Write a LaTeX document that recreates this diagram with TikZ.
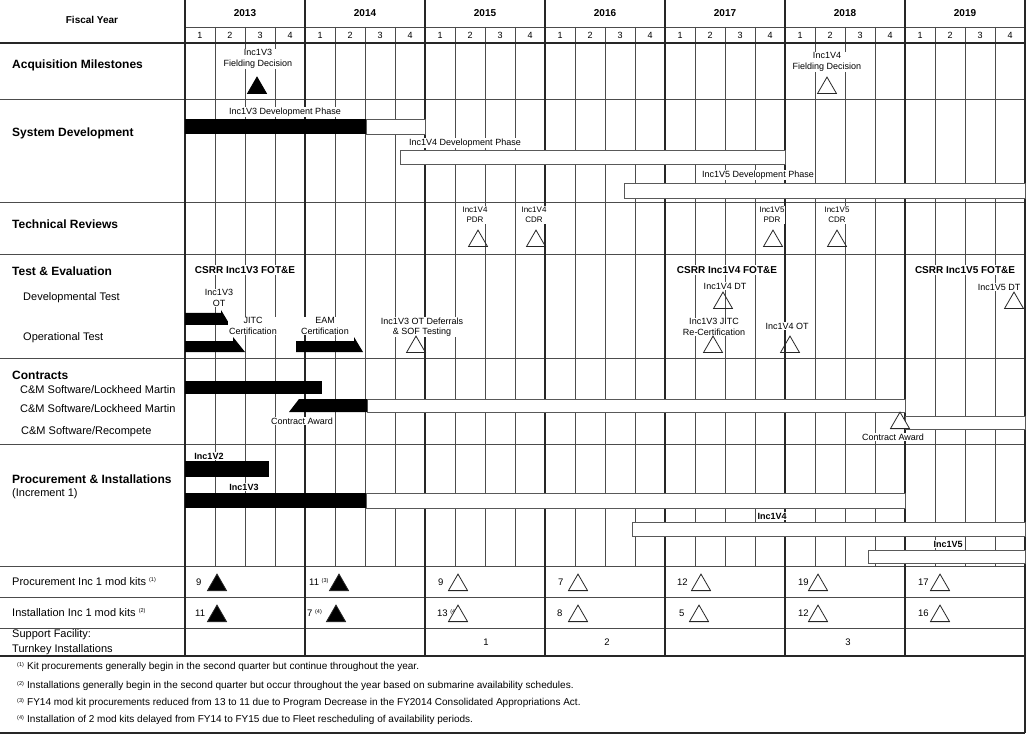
\documentclass[tikz,border=0pt]{standalone}
\usepackage{fontspec}
\setmainfont{Liberation Sans}
\usetikzlibrary{positioning}
\usetikzlibrary{shapes.geometric}
\newcommand\fnmark[1]{\textsuperscript{\fontsize{5.5}{6}\selectfont(#1)}}

\begin{document}
\begin{tikzpicture}[
		x=1pt,
		y=-1pt,
		thin grid/.style={draw=black!70, line width=0.7pt},
		thick grid/.style={draw=black!85, line width=1.6pt},
		head node/.style={anchor=west, inner sep=0pt, font=\bfseries\fontsize{12}{14}\selectfont},
		sub node/.style={anchor=west, inner sep=0pt, font=\fontsize{11}{13}\selectfont},
		main node/.style={inner sep=1pt, fill=white, align=center, font=\fontsize{9}{10.5}\selectfont},
		review node/.style={main node, font=\fontsize{8}{10}\selectfont},
		bold node/.style={inner sep=1pt, fill=white, font=\bfseries\fontsize{9}{10}\selectfont},
		csrr node/.style={bold node, font=\bfseries\fontsize{10}{12}\selectfont},
		count node/.style={anchor=west, inner sep=0pt, font=\fontsize{9.5}{10}\selectfont},
		note node/.style={anchor=west, inner sep=0pt, font=\fontsize{10}{11}\selectfont},
		ms open/.style={regular polygon, regular polygon sides=3, minimum size=22pt, inner sep=0pt, anchor=south, draw=black!85, line width=0.8pt},
		ms done/.style={ms open, draw=black, fill=black},
		done bar/.style={fill=black},
		open bar/.style={draw=black!65, fill=white, line width=0.8pt}
		]
		
		\useasboundingbox (0,0) rectangle (1028,735);
		
		\foreach \q in {0,...,27}
			\draw[thin grid] ({185+30*\q},27) -- ({185+30*\q},566);
		\foreach \r in {99,202,254,358,444,566,597,628}
			\draw[thin grid] (0,\r) -- (1025,\r);
		\draw[thin grid] (185,27) -- (1025,27);
		\draw[thick grid] (0,43) -- (1025,43);
		\draw[thick grid] (0,656) -- (1025,656);
		\draw[thick grid] (0,733) -- (1025,733);
		\foreach \i in {0,...,7}
			\draw[thick grid] ({185+120*\i},0) -- ({185+120*\i},656);
		\draw[thick grid] (1025,0) -- (1025,733);
		
		\node[csrr node] (fy) at (92,20) {Fiscal Year};
		\foreach \yr [count=\i from 0] in {2013,...,2019}
			\node[csrr node] (y\yr) at ({245+120*\i},13) {\yr};
		\foreach \i in {0,...,6}
			\foreach \q in {1,...,4}
				\node[inner sep=0pt, font=\fontsize{9}{10}\selectfont] (q\i\q) at ({170+120*\i+30*\q},35) {\q};
		
		\node[head node] (acq) at (12,65) {Acquisition Milestones};
		\node[head node] (sys) at (12,133) {System Development};
		\node[head node] (tech) at (12,224) {Technical Reviews};
		\node[head node] (te) at (12,271) {Test \& Evaluation};
		\node[sub node] (dt) at (23,298) {Developmental Test};
		\node[sub node] (ot) at (23,338) {Operational Test};
		\node[head node] (con) at (12,375) {Contracts};
		\node[sub node] (lm1) at (20,390) {C\&M Software/Lockheed Martin};
		\node[sub node] (lm2) at (20,409) {C\&M Software/Lockheed Martin};
		\node[sub node] (rec) at (21,432) {C\&M Software/Recompete};
		\node[head node] (pi) at (12,479) {Procurement \& Installations};
		\node[sub node] (inc) at (12,494) {(Increment 1)};
		\node[sub node] (prk) at (12,582) {Procurement Inc 1 mod kits \fnmark{1}};
		\node[sub node] (ink) at (12,613) {Installation Inc 1 mod kits \fnmark{2}};
		\node[sub node, align=left, font=\fontsize{11}{15}\selectfont] (sup) at (12,642) {Support Facility:\\Turnkey Installations};
		
		\draw[open bar] (366,119) rectangle (425,134);
		\fill[done bar] (185,119) rectangle (366,134);
		\draw[open bar] (400,150) rectangle (785,164);
		\draw[open bar] (624,183) rectangle (1025,198);
		\fill[done bar] (185,313) -- (221,313) -- (221,310) -- (230,325) -- (185,325) -- cycle;
		\fill[done bar] (185,341) -- (233,341) -- (233,337) -- (245,352) -- (185,352) -- cycle;
		\fill[done bar] (296,341) -- (354,341) -- (354,337) -- (363,352) -- (296,352) -- cycle;
		\fill[done bar] (185,381) rectangle (322,394);
		\draw[open bar] (367,399) rectangle (905,412);
		\fill[done bar] (289,412) -- (299,399) -- (367,399) -- (367,412) -- cycle;
		\draw[open bar] (905,416) rectangle (1025,429);
		\fill[done bar] (185,461) rectangle (269,477);
		\draw[open bar] (366,493) rectangle (905,508);
		\fill[done bar] (185,493) rectangle (366,508);
		\draw[open bar] (632,522) rectangle (1025,536);
		\draw[open bar] (868,550) rectangle (1025,563);
		
		\node[main node] (fd3) at (258,59) {Inc1V3\\Fielding Decision};
		\node[main node] (fd4) at (827,62) {Inc1V4\\Fielding Decision};
		\node[main node] (dp3) at (285,112) {Inc1V3 Development Phase};
		\node[main node] (dp4) at (465,143) {Inc1V4 Development Phase};
		\node[main node] (dp5) at (758,175) {Inc1V5 Development Phase};
		\node[review node] (pdr4) at (475,215) {Inc1V4\\PDR};
		\node[review node] (cdr4) at (534,215) {Inc1V4\\CDR};
		\node[review node] (pdr5) at (772,215) {Inc1V5\\PDR};
		\node[review node] (cdr5) at (837,215) {Inc1V5\\CDR};
		\node[csrr node] (csrr3) at (245,270) {CSRR Inc1V3 FOT\&E};
		\node[main node] (ot3) at (219,298) {Inc1V3\\OT};
		\node[main node] (jitc) at (253,326) {JITC\\Certification};
		\node[main node] (eam) at (325,326) {EAM\\Certification};
		\node[main node] (def) at (422,327) {Inc1V3 OT Deferrals\\\& SOF Testing};
		\node[csrr node] (csrr4) at (727,270) {CSRR Inc1V4 FOT\&E};
		\node[main node] (dt4) at (725,286) {Inc1V4 DT};
		\node[main node] (rjitc) at (714,327) {Inc1V3 JITC\\Re-Certification};
		\node[main node] (ot4) at (787,326) {Inc1V4 OT};
		\node[csrr node] (csrr5) at (965,270) {CSRR Inc1V5 FOT\&E};
		\node[main node] (dt5) at (999,287) {Inc1V5 DT};
		\node[main node] (ca1) at (302,421) {Contract Award};
		\node[main node] (ca2) at (893,437) {Contract Award};
		\node[bold node] (v2) at (209,456) {Inc1V2};
		\node[bold node] (v3) at (244,487) {Inc1V3};
		\node[bold node] (v4) at (772,516) {Inc1V4};
		\node[bold node] (v5) at (948,544) {Inc1V5};
		
		\node[ms done] (m1) at (257,94) {};
		\node[ms open] (m2) at (827,94) {};
		\node[ms open] (r1) at (478,247) {};
		\node[ms open] (r2) at (536,247) {};
		\node[ms open] (r3) at (773,247) {};
		\node[ms open] (r4) at (837,247) {};
		\node[ms open] (t1) at (416,353) {};
		\node[ms open] (t2) at (723,309) {};
		\node[ms open] (t3) at (713,353) {};
		\node[ms open] (t4) at (790,353) {};
		\node[ms open] (t5) at (1014,309) {};
		\node[ms open, fill=white] (c1) at (900,429) {};
		
		\foreach \nx/\tx/\val/\fc [count=\i] in {196/217/9/black, 309/339/{11 \fnmark{3}}/black, 438/458/9/white, 558/578/7/white, 677/701/12/white, 798/818/19/white, 918/940/17/white}
		{
			\node[count node] (pk\i) at (\nx,582) {\val};
			\node[ms open, fill=\fc] (pt\i) at (\tx,591) {};
		}
		\foreach \nx/\tx/\val/\fc [count=\i] in {195/217/11/black, 307/336/{7 \fnmark{4}}/black, 437/458/{13 \fnmark{4}}/white, 557/578/8/white, 679/699/5/white, 798/818/12/white, 918/940/16/white}
		{
			\node[count node] (ik\i) at (\nx,613) {\val};
			\node[ms open, fill=\fc] (it\i) at (\tx,622) {};
		}
		\node[count node, anchor=center] (sf1) at (486,642) {1};
		\node[count node, anchor=center] (sf2) at (607,642) {2};
		\node[count node, anchor=center] (sf3) at (848,642) {3};
		
		\node[note node] (fn1) at (17,667) {\fnmark{1} Kit procurements generally begin in the second quarter but continue throughout the year.};
		\node[note node] (fn2) at (17,686) {\fnmark{2} Installations generally begin in the second quarter but occur throughout the year based on submarine availability schedules.};
		\node[note node] (fn3) at (17,703) {\fnmark{3} FY14 mod kit procurements reduced from 13 to 11 due to Program Decrease in the FY2014 Consolidated Appropriations Act.};
		\node[note node] (fn4) at (17,720) {\fnmark{4} Installation of 2 mod kits delayed from FY14 to FY15 due to Fleet rescheduling of availability periods.};
	\end{tikzpicture}
\end{document}
